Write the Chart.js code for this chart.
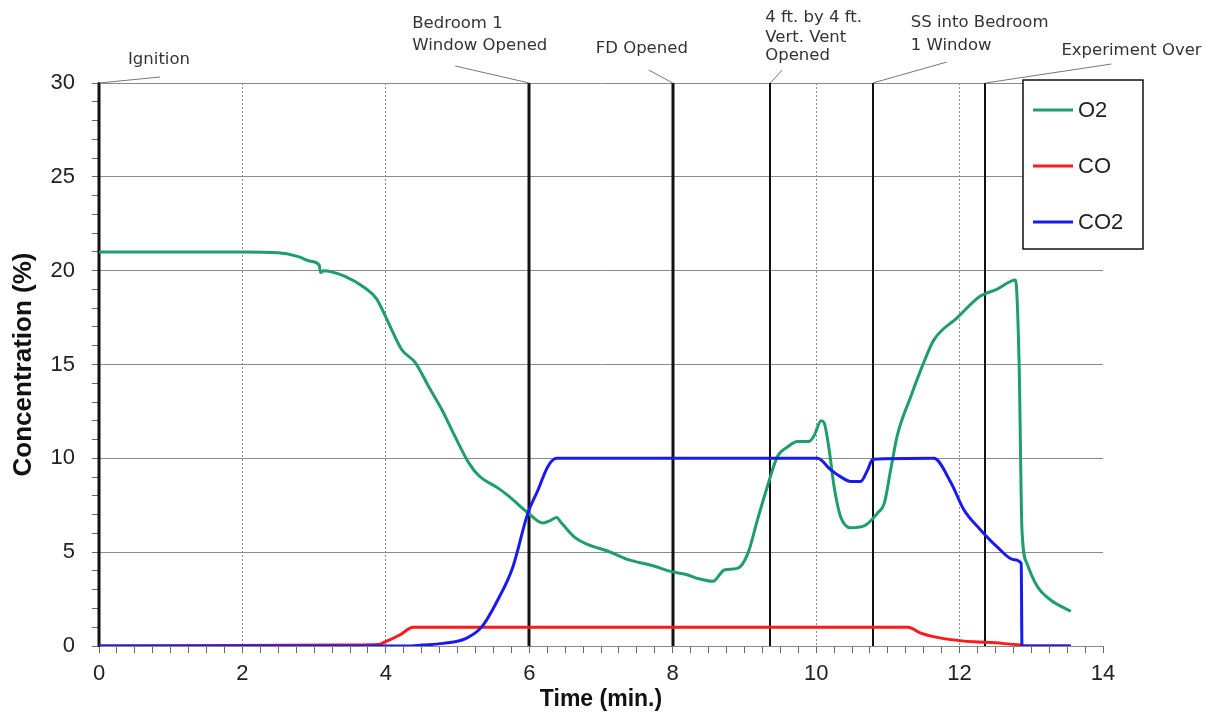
<!DOCTYPE html>
<html>
<head>
<meta charset="utf-8">
<title>Gas concentrations</title>
<script src="https://cdn.jsdelivr.net/npm/chart.js"></script>
<style>
  html, body { margin: 0; padding: 0; background: #fff; }
  #wrap { width: 1217px; height: 717px; position: relative; }
</style>
</head>
<body>
<div id="wrap"><canvas id="gasChart"></canvas></div>
<script>
// readings taken off the original plot, time in minutes, concentration in %
const o2Time = [0, 1, 2, 2.5, 2.78, 2.95, 3.07, 3.09, 3.13, 3.43, 3.7, 3.87, 3.99, 4.1, 4.22, 4.41, 4.6, 4.78, 4.96, 5.15, 5.29, 5.57, 5.71, 5.98, 6.19, 6.3, 6.38, 6.44, 6.63, 6.82, 7.1, 7.38, 7.7, 8.0, 8.2, 8.35, 8.56, 8.72, 8.91, 9.05, 9.18, 9.32, 9.46, 9.6, 9.74, 9.9, 9.97, 10.07, 10.11, 10.18, 10.25, 10.34, 10.48, 10.67, 10.86, 10.95, 11.04, 11.13, 11.32, 11.5, 11.64, 11.97, 12.29, 12.52, 12.78, 12.83, 12.87, 12.94, 13.08, 13.27, 13.55];
const o2Values = [21, 21, 21, 20.95, 20.75, 20.5, 20.3, 19.9, 20.0, 19.7, 19.1, 18.5, 17.6, 16.7, 15.8, 15.1, 13.8, 12.6, 11.2, 9.8, 9.1, 8.4, 8.0, 7.1, 6.55, 6.7, 6.85, 6.6, 5.8, 5.4, 5.05, 4.6, 4.3, 3.95, 3.8, 3.6, 3.45, 4.05, 4.15, 4.95, 6.7, 8.5, 10.1, 10.6, 10.9, 10.9, 11.2, 12.0, 11.9, 10.5, 8.5, 6.9, 6.3, 6.4, 7.1, 7.6, 9.4, 11.2, 13.3, 15.1, 16.3, 17.5, 18.65, 19.0, 19.5, 15.1, 6.2, 4.4, 3.2, 2.45, 1.85];

const coTime = [0, 3.3, 3.9, 3.98, 4.2, 4.38, 11.28, 11.45, 11.63, 11.8, 11.97, 12.2, 12.5, 12.7, 12.85, 12.9, 13.55];
const coValues = [0, 0.05, 0.08, 0.2, 0.6, 1.0, 1.0, 0.7, 0.5, 0.38, 0.3, 0.22, 0.17, 0.1, 0.05, 0, 0];

const co2Time = [0, 4.3, 4.5, 4.8, 5.12, 5.34, 5.56, 5.77, 5.98, 6.12, 6.26, 6.38, 10.02, 10.2, 10.35, 10.48, 10.62, 10.72, 10.79, 11.64, 11.88, 12.06, 12.29, 12.52, 12.76, 12.86, 12.87, 13.55];
const co2Values = [0, 0, 0.05, 0.14, 0.41, 1.03, 2.45, 4.2, 7.08, 8.3, 9.57, 10.0, 10.0, 9.4, 9.0, 8.77, 8.77, 9.4, 9.95, 10.0, 8.7, 7.26, 6.2, 5.3, 4.6, 4.4, 0, 0];

const eventTimes = [0, 6, 8, 9.36, 10.79, 12.36];
const eventLabels = [
    ["Ignition"],
    ["Bedroom 1", "Window Opened"],
    ["FD Opened"],
    ["4 ft. by 4 ft.", "Vert. Vent", "Opened"],
    ["SS into Bedroom", "1 Window"],
    ["Experiment Over"]
];

const xTickLabels = [0, 2, 4, 6, 8, 10, 12, 14];
const yTickLabels = [0, 5, 10, 15, 20, 25, 30];

function toPoints(times, values) {
    return times.map((t, i) => ({ x: t, y: values[i] }));
}

// vertical lines for each event, drawn under the data
const eventLines = {
    id: "eventLines",
    beforeDatasetsDraw(chart) {
        const { ctx, chartArea, scales } = chart;
        ctx.save();
        ctx.strokeStyle = "#111";
        eventTimes.forEach((t) => {
            const px = Math.round(scales.x.getPixelForValue(t));
            ctx.lineWidth = (t === 0 || t === 6 || t === 8) ? 3 : 2;
            ctx.beginPath();
            ctx.moveTo(px, chartArea.top);
            ctx.lineTo(px, chartArea.bottom);
            ctx.stroke();
        });
        ctx.restore();
    }
};

// text above the plot with a thin leader down to its line
// dx: leader end / text start relative to the event line, in px
const notePlace = [
    { lead: [61, 77], textX: 29, base: [64] },
    { lead: [-74, 66], textX: -117, base: [28, 50] },
    { lead: [-24, 70], textX: -77, base: [53] },
    { lead: [12, 70], textX: -5, base: [22, 42, 60] },
    { lead: [74, 62], textX: 38, base: [27, 50] },
    { lead: [126, 64], textX: 76, base: [55] }
];

const eventNotes = {
    id: "eventNotes",
    afterDraw(chart) {
        const { ctx, chartArea, scales } = chart;
        ctx.save();
        eventTimes.forEach((t, i) => {
            const px = scales.x.getPixelForValue(t);
            const p = notePlace[i];
            ctx.strokeStyle = "#777";
            ctx.lineWidth = 1;
            ctx.beginPath();
            ctx.moveTo(px, chartArea.top);
            ctx.lineTo(px + p.lead[0], p.lead[1]);
            ctx.stroke();
            ctx.fillStyle = "#333";
            ctx.font = "16.5px 'DejaVu Sans'";
            ctx.textAlign = "left";
            ctx.textBaseline = "alphabetic";
            eventLabels[i].forEach((line, j) => {
                ctx.fillText(line, px + p.textX, p.base[j]);
            });
        });
        ctx.restore();
    }
};

// boxed legend sitting over the top right corner of the plot
const boxLegend = {
    id: "boxLegend",
    afterDraw(chart) {
        const { ctx } = chart;
        const left = 1023, top = 80, w = 120, h = 169;
        ctx.save();
        ctx.fillStyle = "#fff";
        ctx.fillRect(left, top, w, h);
        ctx.strokeStyle = "#111";
        ctx.lineWidth = 1.5;
        ctx.strokeRect(left, top, w, h);
        ctx.font = "22px 'Liberation Sans'";
        ctx.textBaseline = "middle";
        ctx.textAlign = "left";
        chart.data.datasets.forEach((ds, i) => {
            const y = top + 30 + i * 56;
            ctx.strokeStyle = ds.borderColor;
            ctx.lineWidth = 3;
            ctx.beginPath();
            ctx.moveTo(left + 10, y);
            ctx.lineTo(left + 50, y);
            ctx.stroke();
            ctx.fillStyle = "#222";
            ctx.fillText(ds.label, left + 55, y + 1);
        });
        ctx.restore();
    }
};

const isMajorX = (v) => xTickLabels.includes(v);
const isMajorY = (v) => yTickLabels.includes(v);

const ctx = document.getElementById("gasChart").getContext("2d");
const gasChart = new Chart(ctx, {
    type: "line",
    data: {
        datasets: [
            {
                label: "O2",
                data: toPoints(o2Time, o2Values),
                borderColor: "#1d9e6b",
                borderWidth: 3,
                order: 1
            },
            {
                label: "CO",
                data: toPoints(coTime, coValues),
                borderColor: "#ff1a1a",
                borderWidth: 3,
                order: 2
            },
            {
                label: "CO2",
                data: toPoints(co2Time, co2Values),
                borderColor: "#1a1aee",
                borderWidth: 3,
                order: 0
            }
        ]
    },
    options: {
        responsive: true,
        maintainAspectRatio: false,
        animation: false,
        elements: { point: { radius: 0 }, line: { cubicInterpolationMode: "monotone", borderJoinStyle: "round" } },
        layout: { padding: { top: 83, right: 114, left: 0, bottom: 0 } },
        plugins: {
            legend: { display: false },
            tooltip: { enabled: false }
        },
        scales: {
            x: {
                type: "linear",
                min: 0,
                max: 14,
                afterBuildTicks(scale) {
                    const ticks = [];
                    for (let i = 0; i <= 56; i++) ticks.push({ value: i / 4 });
                    scale.ticks = ticks;
                },
                afterFit(scale) { scale.height = 71; },
                ticks: {
                    autoSkip: false,
                    maxRotation: 0,
                    padding: 8,
                    color: "#222",
                    font: { family: "'Liberation Sans'", size: 22 },
                    callback: (v) => isMajorX(v) ? String(v) : ""
                },
                grid: {
                    color: (c) => {
                        const v = c.tick ? c.tick.value : -1;
                        return (isMajorX(v) && !eventTimes.includes(v) && v !== 14) ? "#8a8a8a" : "rgba(0,0,0,0)";
                    },
                    lineWidth: 1,
                    tickColor: "#666",
                    tickLength: 7
                },
                border: { display: true, color: "#888", width: 1, dash: [2, 2] },
                title: {
                    display: true,
                    text: "Time (min.)",
                    color: "#111",
                    font: { family: "'Liberation Sans'", size: 23, weight: "bold" },
                    padding: { top: 0, bottom: 4 }
                }
            },
            y: {
                min: 0,
                max: 30,
                afterBuildTicks(scale) {
                    const ticks = [];
                    for (let i = 0; i <= 30; i++) ticks.push({ value: i });
                    scale.ticks = ticks;
                },
                afterFit(scale) { scale.width = 99; },
                ticks: {
                    autoSkip: false,
                    padding: 17,
                    color: "#222",
                    font: { family: "'Liberation Sans'", size: 22 },
                    callback: (v) => isMajorY(v) ? String(v) : ""
                },
                grid: {
                    color: (c) => {
                        const v = c.tick ? c.tick.value : -1;
                        return (isMajorY(v) && v !== 0) ? "#8a8a8a" : "rgba(0,0,0,0)";
                    },
                    lineWidth: 1,
                    tickColor: "#666",
                    tickLength: 7
                },
                border: { display: true, color: "#111", width: 2 },
                title: {
                    display: true,
                    text: "Concentration (%)",
                    color: "#111",
                    font: { family: "'Liberation Sans'", size: 26, weight: "bold" },
                    padding: { top: 8, bottom: 0 }
                }
            }
        }
    },
    plugins: [eventLines, eventNotes, boxLegend]
});
</script>
</body>
</html>
